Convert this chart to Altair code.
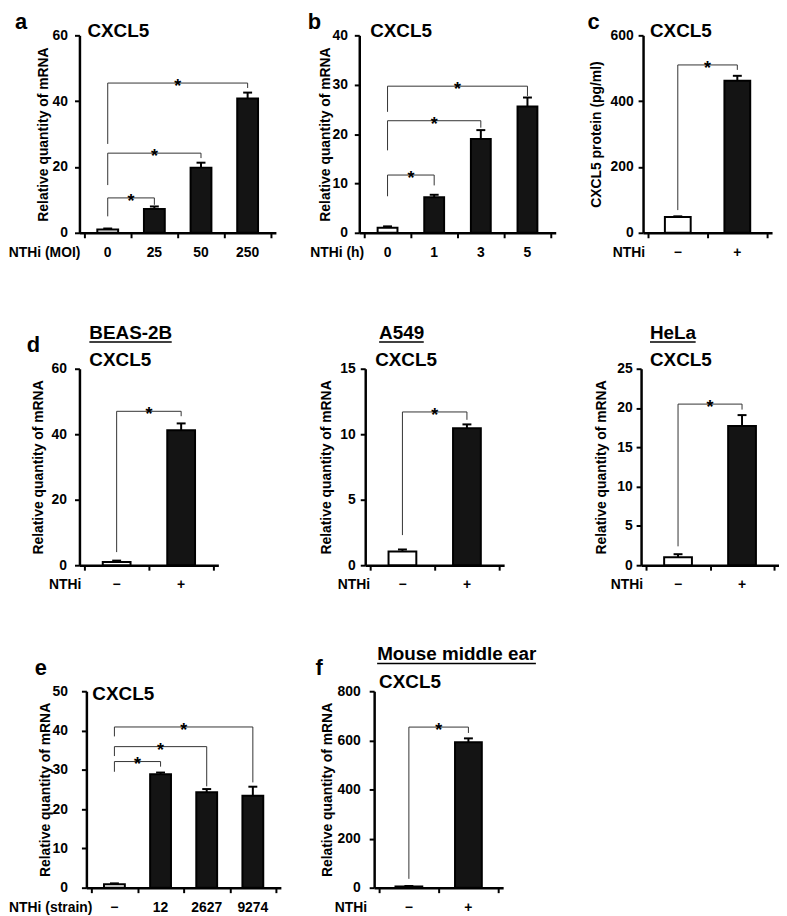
import altair as alt
import pandas as pd

FONT = "Liberation Sans"

# ---------------- data ----------------
# panel a : NTHi dose (MOI)
a_labels = ["0", "25", "50", "250"]
a_mean = [1.0, 7.2, 19.8, 40.8]
a_err = [0.3, 0.8, 1.5, 1.8]
a_group = ["control", "NTHi", "NTHi", "NTHi"]
a_br_from = [0, 0, 0]
a_br_to = [1, 2, 3]
a_br_level = [10.6, 24.2, 45.5]
a_br_left = [5.0, 14.5, 27.0]
a_br_right = [8.5, 22.7, 44.0]

# panel b : time (h)
b_labels = ["0", "1", "3", "5"]
b_mean = [1.0, 7.2, 19.0, 25.6]
b_err = [0.3, 0.5, 1.8, 1.8]
b_group = ["control", "NTHi", "NTHi", "NTHi"]
b_br_from = [0, 0, 0]
b_br_to = [1, 2, 3]
b_br_level = [11.7, 22.7, 29.7]
b_br_left = [7.4, 16.7, 24.5]
b_br_right = [9.6, 21.3, 27.7]

# panel c : protein
c_labels = ["\u2212", "+"]
c_mean = [48, 462]
c_err = [2, 15]
c_group = ["control", "NTHi"]
c_br = [0, 1, 510, 69, 495]

# panel d : cell lines
beas_mean = [1.0, 41.2]
beas_err = [0.4, 2.1]
beas_br = [0, 1, 47, 4, 45.5]
a549_mean = [1.05, 10.45]
a549_err = [0.15, 0.3]
a549_br = [0, 1, 11.7, 2.3, 11.1]
hela_mean = [1.0, 17.7]
hela_err = [0.4, 1.4]
hela_br = [0, 1, 20.5, 2.4, 19.8]
pm_labels = ["\u2212", "+"]
pm_group = ["control", "NTHi"]

# panel e : strains
e_labels = ["\u2212", "12", "2627", "9274"]
e_mean = [0.9, 28.9, 24.3, 23.4]
e_err = [0.2, 0.4, 0.8, 2.3]
e_group = ["control", "NTHi", "NTHi", "NTHi"]
e_br_from = [0, 0, 0]
e_br_to = [1, 2, 3]
e_br_level = [32.1, 35.9, 40.9]
e_br_left = [29.5, 33.5, 38.5]
e_br_right = [30.8, 25.8, 26.8]

# panel f : mouse middle ear
f_mean = [5, 592]
f_err = [2, 16]
f_br = [0, 1, 654, 36, 630]

YTITLE = "Relative quantity of mRNA"


def txt(s, x, y, size, baseline="alphabetic", align="left"):
    return alt.Chart(pd.DataFrame({"t": [0]})).mark_text(
        text=s, fontSize=size, font=FONT, fontWeight="bold", align=align,
        baseline=baseline, color="black"
    ).encode(x=alt.value(x), y=alt.value(y))


def uline(x1, x2, y):
    return alt.Chart(pd.DataFrame({"t": [0]})).mark_rule(
        color="black", strokeWidth=1.5
    ).encode(x=alt.value(x1), x2=alt.value(x2), y=alt.value(y))


def pt(x, y):
    return alt.Chart(pd.DataFrame({"t": [0]})).mark_point(
        size=0, opacity=0
    ).encode(x=alt.value(x), y=alt.value(y))


def spacer(w, h, top=0, bottom=0):
    return alt.layer(pt(0, -top), pt(0, h + bottom)).properties(
        width=w, height=h)


def panel(labels, mean, err, group, br_from, br_to, br_level, br_left, br_right,
          ymax, ystep, ytitle, xtitle, w, h, bar_size, title_x, label_pad,
          xtitle_x, extras):
    n = len(labels)
    bars = pd.DataFrame({"idx": list(range(n)), "label": labels, "mean": mean,
                         "err": err, "group": group})
    bars["top"] = bars["mean"] + bars["err"]
    br = pd.DataFrame({"i1": br_from, "i2": br_to, "level": br_level,
                       "left": br_left, "right": br_right})
    br["mid"] = (br["i1"] + br["i2"]) / 2

    xs = alt.Scale(domain=[-0.5, n - 0.5], nice=False, zero=False)
    ys = alt.Scale(domain=[0, ymax], nice=False)
    xaxis = alt.Axis(values=[i - 0.5 for i in range(n + 1)], labels=False,
                     title=None, grid=False, tickSize=5, tickWidth=2,
                     tickColor="black", domainColor="black", domainWidth=2.5)
    yaxis = alt.Axis(values=list(range(0, ymax + 1, ystep)), title=ytitle,
                     titleX=title_x, titleFont=FONT, titleFontSize=14,
                     titleFontWeight="bold", titleColor="black",
                     labelFont=FONT, labelFontSize=14, labelFontWeight="bold",
                     labelColor="black", labelPadding=label_pad, tickSize=5,
                     tickWidth=2, tickColor="black", domainColor="black",
                     domainWidth=2.5, grid=False)

    def X(f):
        return alt.X(f, type="quantitative", scale=xs, axis=xaxis)

    def Y(f):
        return alt.Y(f, type="quantitative", scale=ys, axis=yaxis)

    base = alt.Chart(bars)
    bar_l = base.mark_bar(size=bar_size, stroke="black", strokeWidth=2).encode(
        x=X("idx"), y=Y("mean"),
        fill=alt.Fill("group:N", scale=alt.Scale(domain=["control", "NTHi"],
                                                 range=["white", "#141414"]),
                      legend=None))
    err_l = base.mark_rule(color="black", strokeWidth=2).encode(
        x=X("idx"), y=Y("mean"), y2="top")
    cap_l = base.mark_tick(orient="horizontal", size=9, thickness=2,
                           color="black", opacity=1).encode(x=X("idx"), y=Y("top"))
    lab_l = base.mark_text(font=FONT, fontSize=14, fontWeight="bold",
                           baseline="middle", color="black").encode(
        x=X("idx"), y=alt.value(h + 20), text="label:N")

    bb = alt.Chart(br)
    hor = bb.mark_rule(color="#333", strokeWidth=1).encode(
        x=X("i1"), x2="i2", y=Y("level"))
    lv = bb.mark_rule(color="#333", strokeWidth=1).encode(
        x=X("i1"), y=Y("left"), y2="level")
    rv = bb.mark_rule(color="#333", strokeWidth=1).encode(
        x=X("i2"), y=Y("right"), y2="level")
    star = bb.mark_text(text="*", font=FONT, fontSize=18, fontWeight="bold",
                        dy=4, color="black").encode(x=X("mid"), y=Y("level"))

    layers = [bar_l, err_l, cap_l, hor, lv, rv, star, lab_l,
              txt(xtitle, xtitle_x, h + 20, 14, baseline="middle", align="right")]
    layers += extras
    return alt.layer(*layers).properties(width=w, height=h)


def b5(lst):
    return [lst[0]], [lst[1]], [lst[2]], [lst[3]], [lst[4]]


# -------- row 1 --------
pa = panel(a_labels, a_mean, a_err, a_group, a_br_from, a_br_to, a_br_level,
           a_br_left, a_br_right, 60, 20, YTITLE, "NTHi (MOI)", 198, 199, 21,
           -29, 7, 1,
           [txt("a", -65, -23, 22, baseline="top"), txt("CXCL5", 8, 2, 19)])
pb = panel(b_labels, b_mean, b_err, b_group, b_br_from, b_br_to, b_br_level,
           b_br_left, b_br_right, 40, 10, YTITLE, "NTHi (h)", 198, 199, 20,
           -27, 7, 5,
           [txt("b", -52, -23, 22, baseline="top"), txt("CXCL5", 11, 2, 19)])
pc = panel(c_labels, c_mean, c_err, c_group, *b5(c_br), 600, 200,
           "CXCL5 protein (pg/ml)", "NTHi", 130, 199, 26, -40, 5, 2,
           [txt("c", -56, -23, 22, baseline="top"), txt("CXCL5", 7, 2, 19)])

# -------- row 2 --------
pd_ = panel(pm_labels, beas_mean, beas_err, pm_group, *b5(beas_br), 60, 20,
            YTITLE, "NTHi", 140, 198, 28, -34, 8, 2,
            [txt("d", -53, -17, 22), txt("BEAS-2B", 10, -30, 19),
             uline(10, 93, -27), txt("CXCL5", 10, -3, 19)])
pa549 = panel(pm_labels, a549_mean, a549_err, pm_group, *b5(a549_br), 15, 5,
              YTITLE, "NTHi", 140, 198, 28, -32, 5, 5,
              [txt("A549", 14, -30, 19), uline(14, 59, -27),
               txt("CXCL5", 10, -3, 19)])
phela = panel(pm_labels, hela_mean, hela_err, pm_group, *b5(hela_br), 25, 5,
              YTITLE, "NTHi", 139, 198, 28, -33, 4, 2,
              [txt("HeLa", 9, -30, 19), uline(9, 55, -27),
               txt("CXCL5", 9, -3, 19)])

# -------- row 3 --------
pe = panel(e_labels, e_mean, e_err, e_group, e_br_from, e_br_to, e_br_level,
           e_br_left, e_br_right, 50, 10, YTITLE, "NTHi (strain)", 196, 198, 21,
           -34, 14, 6,
           [txt("e", -52, -16, 22), txt("CXCL5", 6, 9, 19)])
pf = panel(pm_labels, f_mean, f_err, pm_group, *b5(f_br), 800, 200,
           YTITLE, "NTHi", 130, 198, 27, -40, 9, -7,
           [txt("f", -59, -16, 22), txt("Mouse middle ear", 3, -31, 19),
            uline(3, 163, -28), txt("CXCL5", 5, -3, 19)])

row1 = alt.hconcat(spacer(72, 199, 24, 77), pa, spacer(84, 199), pb,
                   spacer(88, 199), pc, spacing=0, bounds="flush")
row2 = alt.hconcat(spacer(72, 198, 60, 63), pd_, spacer(148, 198), pa549,
                   spacer(138, 198), phela, spacing=0, bounds="flush")
row3 = alt.hconcat(spacer(79, 198, 64, 26), pe, spacer(94, 198), pf,
                   spacing=0, bounds="flush")

chart = alt.vconcat(row1, row2, row3, spacing=0).properties(
    padding=0, background="white"
).configure_view(stroke=None)

chart.save("out.html", embed_options={"renderer": "svg", "actions": False})
